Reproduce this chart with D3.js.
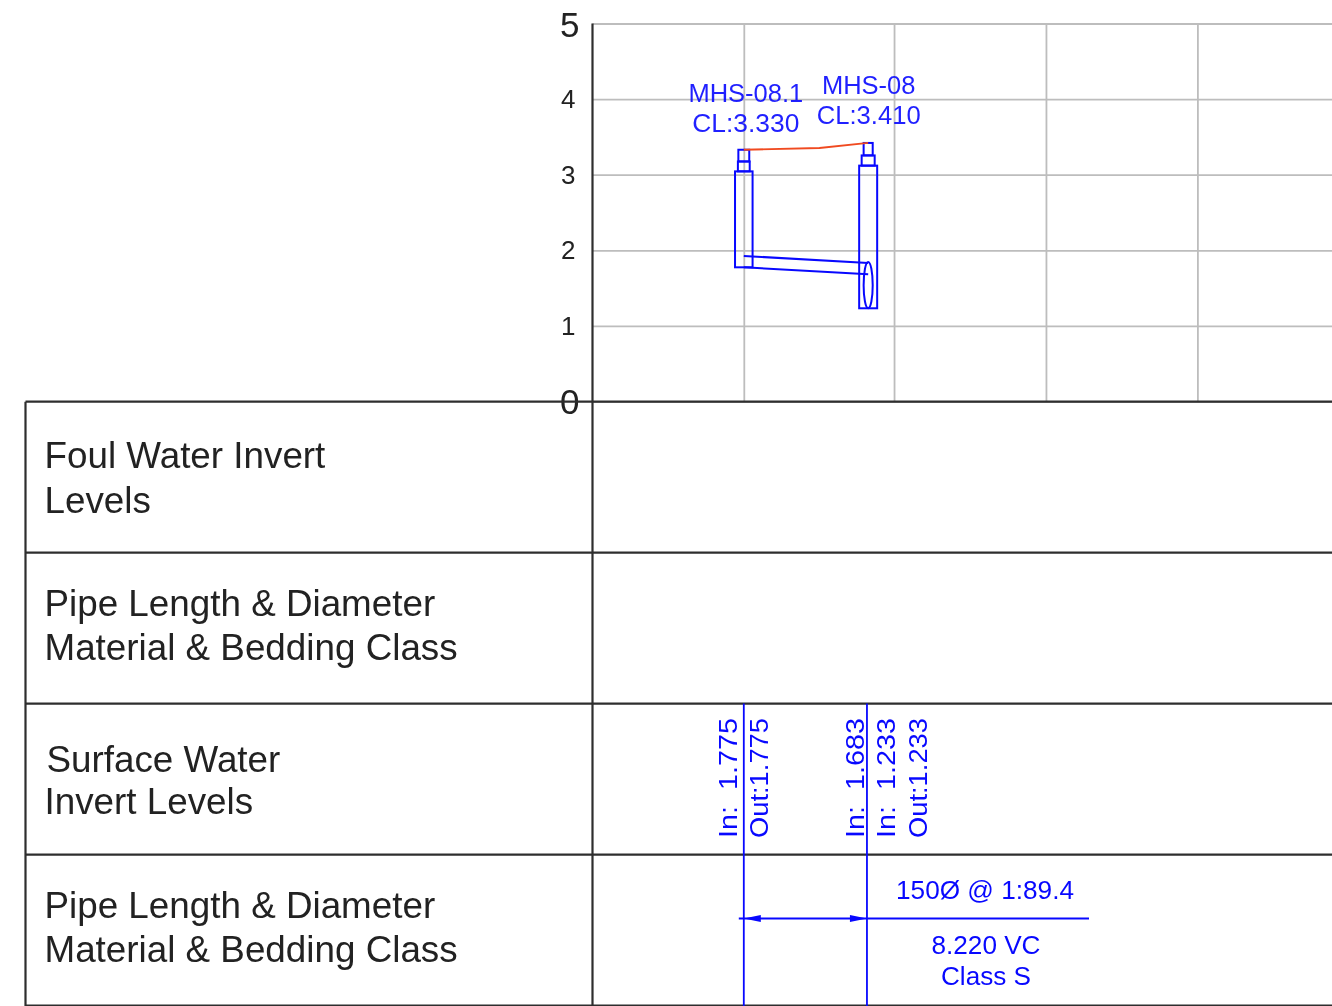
<!DOCTYPE html>
<html><head><meta charset="utf-8">
<script src="https://cdn.jsdelivr.net/npm/d3@7/dist/d3.min.js"></script>
<style>html,body{margin:0;padding:0;background:#fff;overflow:hidden}svg{display:block;filter:blur(0.45px)}text{font-family:"Liberation Sans",Arial,sans-serif}</style>
</head><body><svg id="c" width="1332" height="1006"></svg>
<script>
const yTicks=[0,1,2,3,4,5];
const xGrid=[10,19.93,29.97,39.98];
const rowLabels=[["Foul Water Invert","Levels"],["Pipe Length & Diameter","Material & Bedding Class"],["Surface Water","Invert Levels"],["Pipe Length & Diameter","Material & Bedding Class"]];
const mhNames=["MHS-08.1","MHS-08"];
const mhChainage=[10,18.22];
const tableChainage=[10,18.14];
const mhCover=[3.33,3.42];
const mhCoverLabels=["CL:3.330","CL:3.410"];
const mhBottom=[1.775,1.233];
const coverProfileX=[10,15,18.22];
const coverProfileY=[3.33,3.353,3.42];
const shaftTop=[3.175,3.255];
const chamberTop=[3.044,3.12];
const neckWidth=[0.78,0.86];
const coverWidth=[0.72,0.6];
const chamberWidth=[1.16,1.19];
const pipeInvert=[1.775,1.683];
const pipeDia=0.15;
const pipeEndTop=1.845;
const levelLabels=[["In:  1.775","Out:1.775"],["In:  1.683","In:  1.233","Out:1.233"]];
const pipeText=["150Ø @ 1:89.4","8.220 VC","Class S"];

const svg=d3.select("#c");
const x=d3.scaleLinear().domain([0,40]).range([592.5,1197.7]);
const y=d3.scaleLinear().domain([0,5]).range([401.5,23.5]);
const row=d3.scaleLinear().domain([0,4]).range([401.7,1005.5]);
const blue="#0808ff",grid="#bdbdbd",dark="#2e2e2e";
const big=d=>d===0||d===5;

// grid
const gy=svg.append("g").attr("transform",`translate(${x(0)},0)`)
 .call(d3.axisLeft(y).tickValues(yTicks).tickSize(-(1332-x(0))).tickFormat(d3.format("d")));
gy.select(".domain").remove();
gy.selectAll("line").attr("stroke",grid).attr("stroke-width",1.8);
gy.selectAll("text").attr("fill","#222").attr("font-family",'"Liberation Sans"')
 .attr("x",d=>big(d)?-13:-17)
 .attr("font-size",d=>big(d)?35:26).attr("dy",d=>d===0?"0.33em":d===5?"0.36em":"0.32em");
const gx=svg.append("g").attr("transform",`translate(0,${y(0)})`)
 .call(d3.axisTop(x).tickValues(xGrid).tickSize(y(0)-y(5)).tickFormat(""));
gx.select(".domain").remove();
gx.selectAll("line").attr("stroke",grid).attr("stroke-width",1.8);

// table
const tbl=svg.append("g").attr("stroke",dark).attr("stroke-width",2.2);
tbl.selectAll("line.h").data(d3.range(0,5)).join("line").attr("x1",25.5).attr("x2",1332).attr("y1",d=>row(d)).attr("y2",d=>row(d));
tbl.append("line").attr("x1",25.5).attr("x2",25.5).attr("y1",row(0)).attr("y2",1006);
tbl.append("line").attr("x1",x(0)).attr("x2",x(0)).attr("y1",y(5)).attr("y2",1006);

// row labels
const rl=svg.append("g").attr("fill","#222").attr("font-size",36.8);
const base=[[66,111],[63.5,107.5],[68.5,110.5],[63.5,107.5]];
rowLabels.forEach((lines,i)=>lines.forEach((t,j)=>{
 rl.append("text").attr("x",44.5+(i===2&&j===0?2:0)).attr("y",row(i)+base[i][j]).text(t);
}));

// manholes
const mh=svg.append("g").attr("fill","none").attr("stroke",blue).attr("stroke-width",2);
const rect=(c,w,top,bot)=>mh.append("rect").attr("x",x(c-w/2)).attr("width",x(w)-x(0)).attr("y",y(top)).attr("height",y(bot)-y(top));
mhChainage.forEach((c,i)=>{
 rect(c,coverWidth[i],mhCover[i],shaftTop[i]);
 rect(c,neckWidth[i],shaftTop[i],chamberTop[i]);
 rect(c,chamberWidth[i],chamberTop[i],mhBottom[i]);
});
const ln=d3.line().x(d=>x(d[0])).y(d=>y(d[1]));
mh.append("path").attr("d",ln([[mhChainage[0],pipeInvert[0]+pipeDia],[mhChainage[1],pipeInvert[1]+pipeDia]]));
mh.append("path").attr("d",ln([[mhChainage[0],pipeInvert[0]],[mhChainage[1],pipeInvert[1]]]));
mh.append("ellipse").attr("cx",x(mhChainage[1])).attr("cy",y((pipeEndTop+mhBottom[1])/2))
 .attr("rx",x(0.3)-x(0)).attr("ry",(y(mhBottom[1])-y(pipeEndTop))/2);
svg.append("path").attr("fill","none").attr("stroke","#f04a20").attr("stroke-width",1.8)
 .attr("d",ln(coverProfileX.map((d,i)=>[d,coverProfileY[i]])));

// manhole labels
const lab=svg.append("g").attr("fill",blue).attr("font-size",25.5).attr("text-anchor","middle").attr("fill-opacity",.9);
mhNames.forEach((n,i)=>{
 const cx=x(mhChainage[i])+[2,0.5][i],top=[102,94][i];
 lab.append("text").attr("x",cx).attr("y",top).text(n);
 lab.append("text").attr("x",cx).attr("y",top+30).attr("textLength",[107,104][i]).attr("lengthAdjust","spacingAndGlyphs").text(mhCoverLabels[i]);
});

// chainage lines
const bl=svg.append("g").attr("stroke",blue).attr("stroke-width",1.8);
tableChainage.forEach(c=>bl.append("line").attr("x1",x(c)).attr("x2",x(c)).attr("y1",row(2)).attr("y2",1006));
const dimY=918.5;
bl.append("line").attr("x1",x(tableChainage[0])-5).attr("x2",1089).attr("y1",dimY).attr("y2",dimY);
const head=(c,dir)=>svg.append("path").attr("fill",blue).attr("d",`M${x(c)},${dimY}l${dir*17},-3.5v7z`);
head(tableChainage[0],1);head(tableChainage[1],-1);

// rotated levels
const lv=svg.append("g").attr("fill",blue).attr("font-size",26);
const rot=(cx,t)=>lv.append("text").attr("transform",`translate(${cx},838) rotate(-90)`).attr("textLength",120).attr("lengthAdjust","spacingAndGlyphs").style("white-space","pre").text(t);
levelLabels.forEach((arr,i)=>arr.forEach((t,j)=>rot(x(tableChainage[i])+[[-7,24],[-3,28,60]][i][j],t)));

// pipe text
const pt=svg.append("g").attr("fill",blue).attr("font-size",26).attr("text-anchor","middle");
pipeText.forEach((t,i)=>pt.append("text").attr("x",[985,986,986][i]).attr("y",[899,954,985][i]).attr("textLength",[178,109,90][i]).attr("lengthAdjust","spacingAndGlyphs").text(t));
</script></body></html>
